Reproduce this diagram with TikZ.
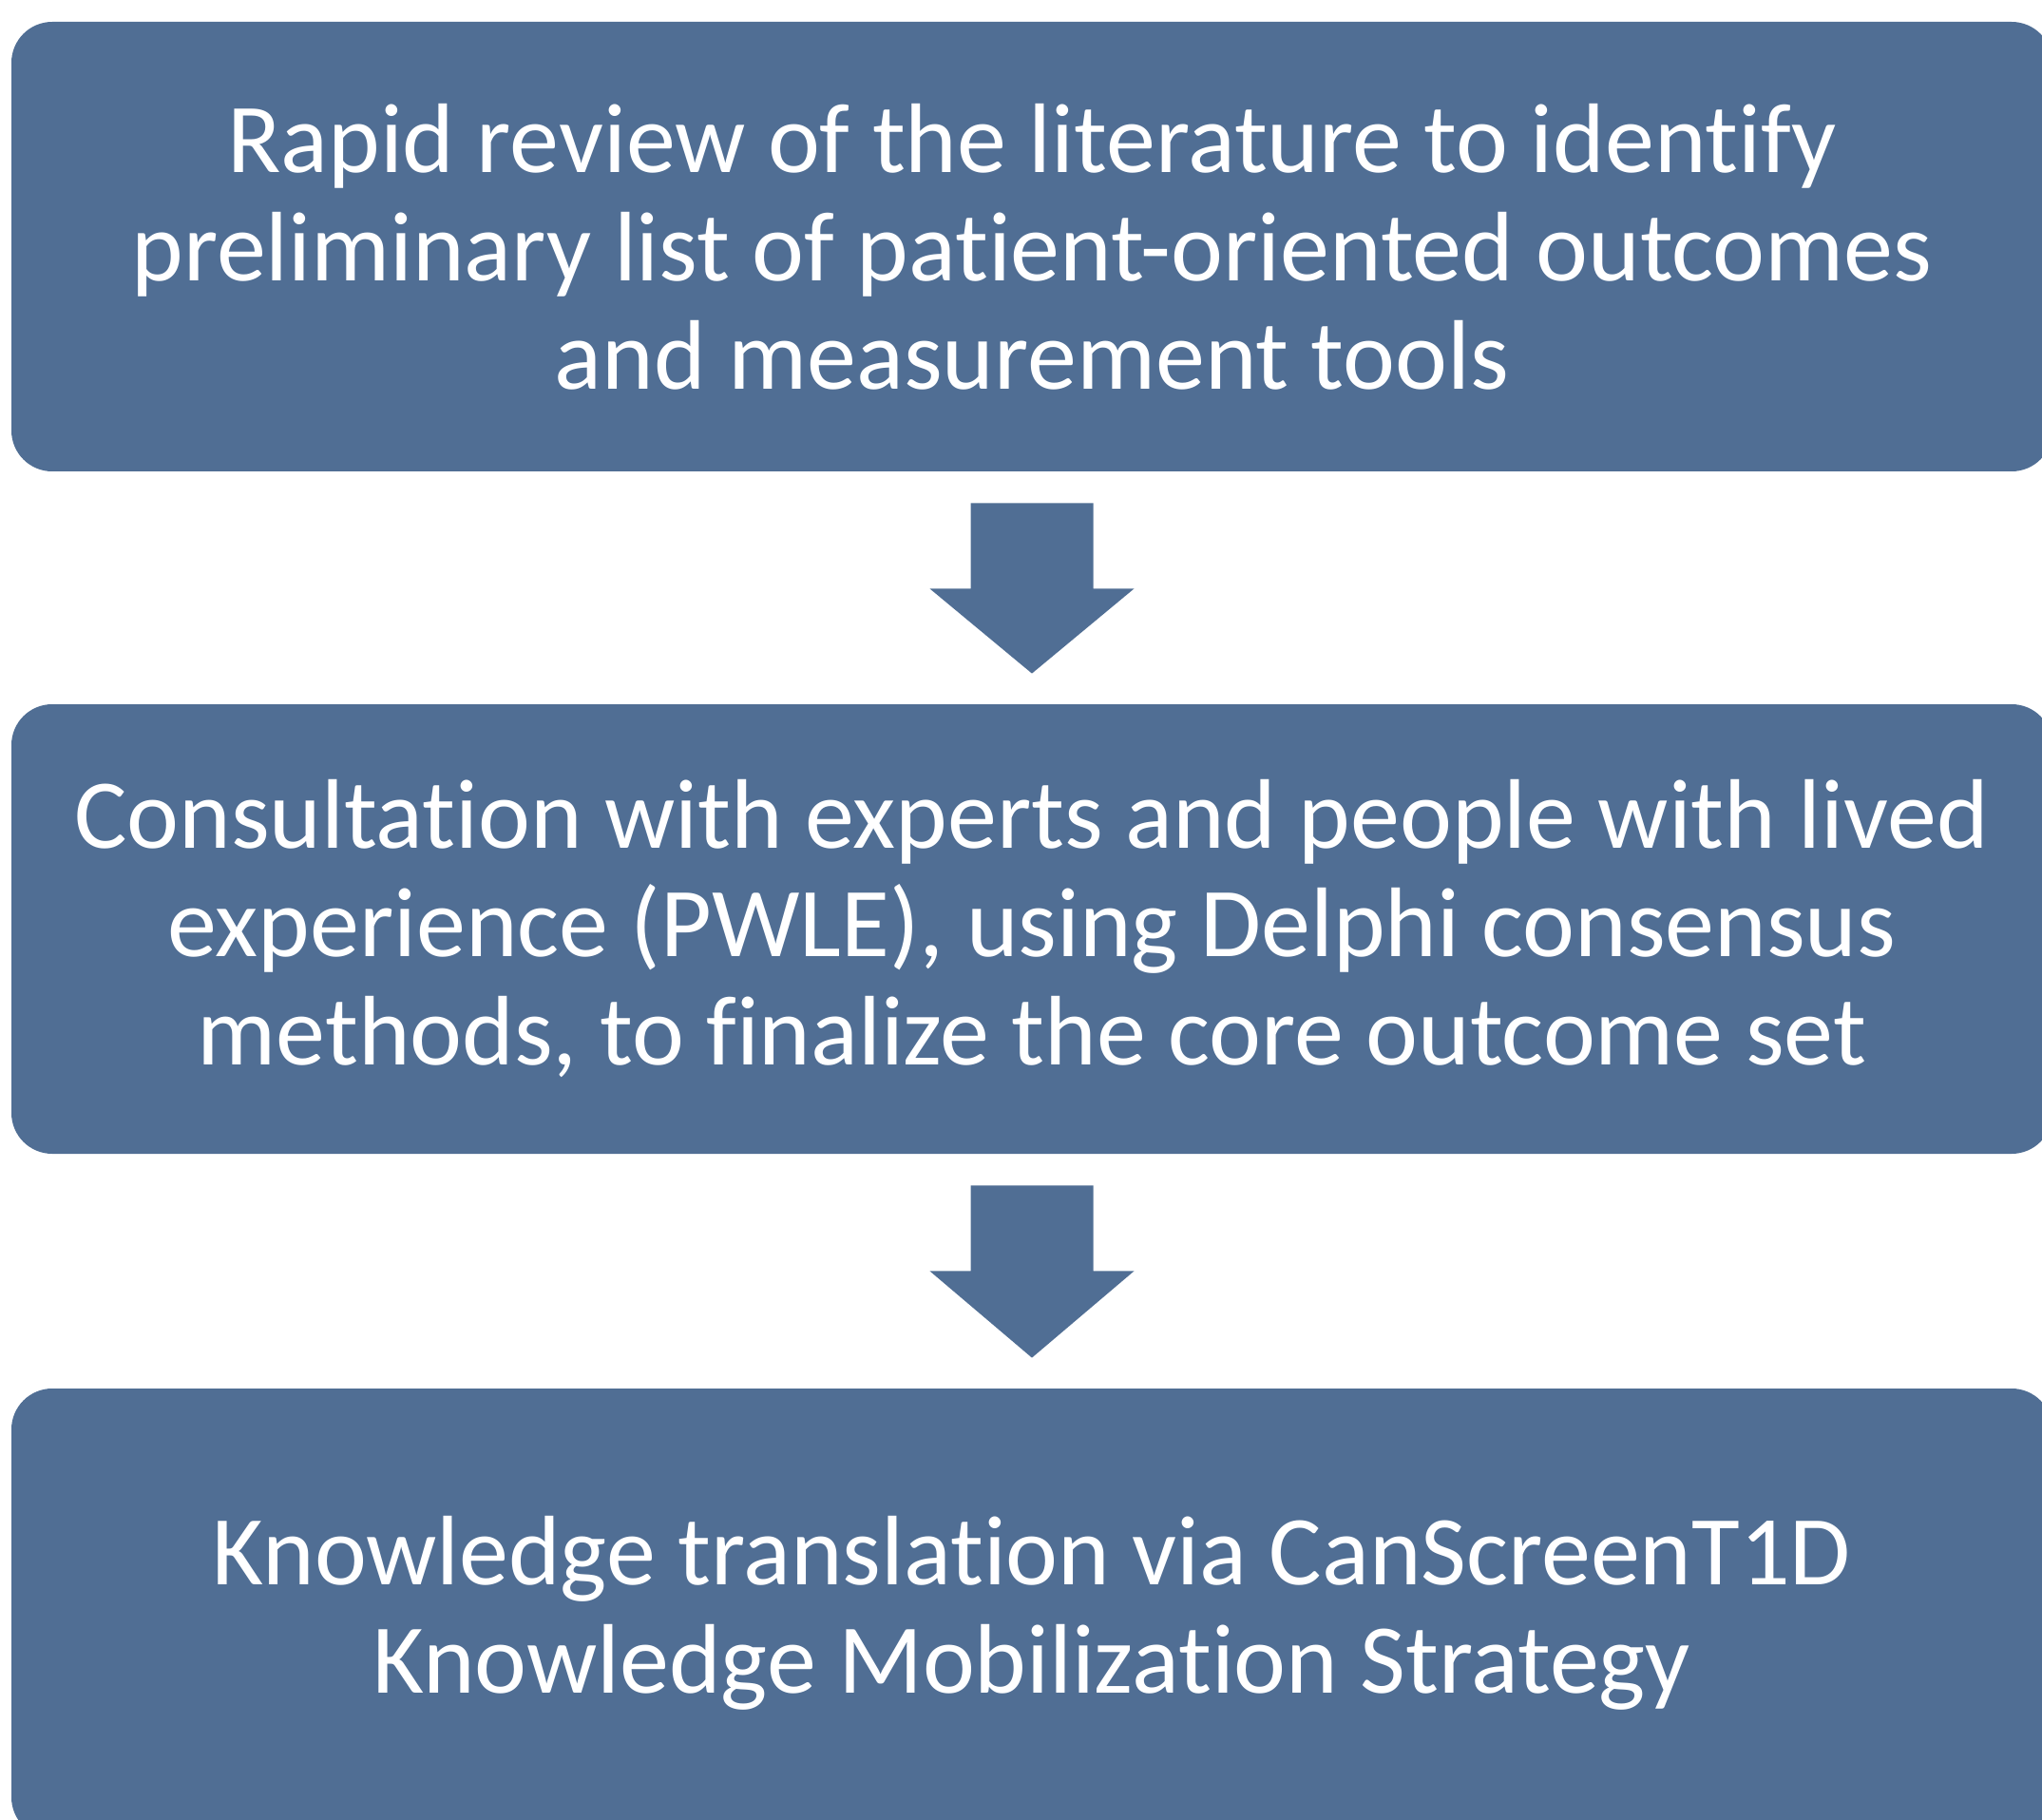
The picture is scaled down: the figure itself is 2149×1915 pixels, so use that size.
\documentclass[tikz,border=0pt]{standalone}
\usepackage{fontspec}
\setmainfont{Carlito}[Ligatures={NoCommon}]
\usetikzlibrary{calc}
\definecolor{boxblue}{RGB}{80,110,148}
\tikzset{
  stepbox/.style={rectangle, fill=boxblue, draw=none, rounded corners=21.5pt,
    minimum width=1074pt, minimum height=236.5pt, inner sep=0pt,
    text=white, align=center, font=\fontsize{52pt}{57pt}\selectfont},
  arrowfill/.style={fill=boxblue, draw=none}
}
\begin{document}
\begin{tikzpicture}[x=0.5pt,y=-0.5pt]
\useasboundingbox (0,0) rectangle (2149,1915);
\clip (0,0) rectangle (2149,1915);
\node[stepbox] (b1) at (1086,259.5) {Rapid review of the literature to identify\\preliminary list of patient-oriented outcomes\\and measurement tools};
\node[stepbox] (b2) at (1086,977.5) {Consultation with experts and people with lived\\experience (PWLE), using Delphi consensus\\methods, to finalize the core outcome set};
\node[stepbox] (b3) at (1086,1697.5) {Knowledge translation via CanScreenT1D\\Knowledge Mobilization Strategy};
\foreach \a/\b in {b1/b2, b2/b3} {
  \coordinate (s) at (\a.south);
  \coordinate (t) at (\b.north);
  \fill[arrowfill] ($(s)+(-64.5,33)$) -- ($(s)+(64.5,33)$) -- ($(s)+(64.5,123)$)
    -- ($(s)+(107.5,123)$) -- ($(t)+(0,-32)$) -- ($(s)+(-107.5,123)$)
    -- ($(s)+(-64.5,123)$) -- cycle;
}
\end{tikzpicture}
\end{document}
